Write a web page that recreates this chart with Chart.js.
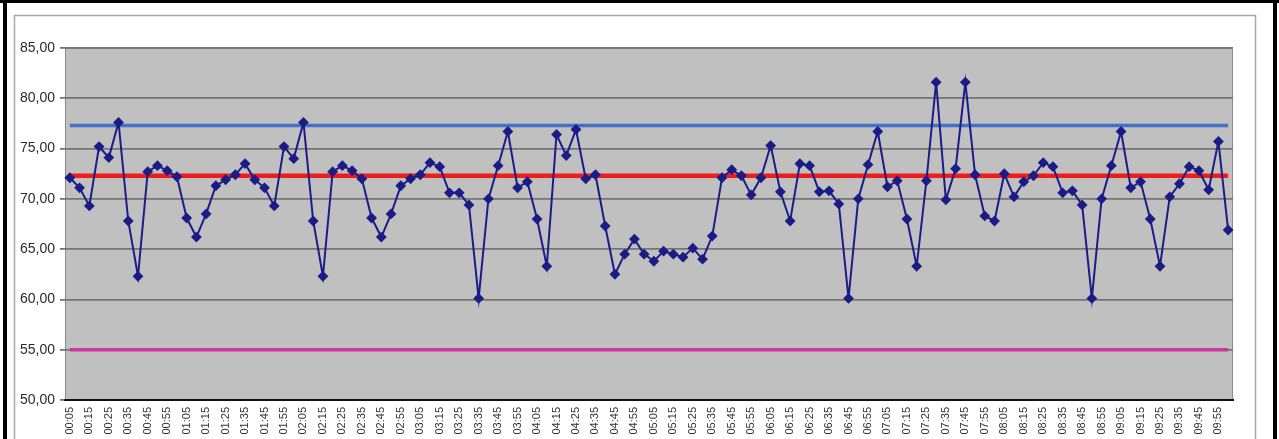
<!DOCTYPE html>
<html>
<head>
<meta charset="utf-8">
<script src="https://cdn.jsdelivr.net/npm/chart.js@4/dist/chart.umd.min.js"></script>
<style>
    html, body { margin: 0; padding: 0; background: #fff; overflow: hidden; }
    #wrap { width: 1279px; height: 439px; position: relative; }
</style>
</head>
<body>
<div id="wrap"><canvas id="myChart" width="1279" height="439"></canvas></div>
<script>
// 5-minute readings, labelled every 10 minutes on the axis
const times = [];
for (let i = 0; i < 120; i++) {
    const m = 5 + i * 5;
    times.push(String(Math.floor(m / 60)).padStart(2, '0') + ':' + String(m % 60).padStart(2, '0'));
}

const values = [
    72.1, 71.1, 69.3, 75.2, 74.1, 77.6, 67.8, 62.3, 72.7, 73.3,
    72.8, 72.2, 68.1, 66.2, 68.5, 71.3, 71.9, 72.4, 73.5, 71.9,
    71.1, 69.3, 75.2, 74.0, 77.6, 67.8, 62.3, 72.7, 73.3, 72.8,
    72.0, 68.1, 66.2, 68.5, 71.3, 72.0, 72.4, 73.6, 73.2, 70.6,
    70.6, 69.4, 60.1, 70.0, 73.3, 76.7, 71.1, 71.7, 68.0, 63.3,
    76.4, 74.3, 76.9, 72.0, 72.4, 67.3, 62.5, 64.5, 66.0, 64.5,
    63.8, 64.8, 64.5, 64.2, 65.1, 64.0, 66.3, 72.1, 72.9, 72.3,
    70.4, 72.1, 75.3, 70.7, 67.8, 73.5, 73.3, 70.7, 70.8, 69.5,
    60.1, 70.0, 73.4, 76.7, 71.2, 71.8, 68.0, 63.3, 71.8, 81.6,
    69.9, 73.0, 81.6, 72.4, 68.3, 67.8, 72.5, 70.2, 71.7, 72.3,
    73.6, 73.2, 70.6, 70.8, 69.4, 60.1, 70.0, 73.3, 76.7, 71.1,
    71.7, 68.0, 63.3, 70.2, 71.5, 73.2, 72.8, 70.9, 75.7, 66.9
];

const upperLimit = 77.3;
const average = 72.3;
const lowerLimit = 55.0;

const yTicks = [50, 55, 60, 65, 70, 75, 80, 85];

const flat = (v) => times.map(() => v);

// white sheet with black outer border and a thin grey inner frame
const frame = {
    id: 'frame',
    beforeDraw(chart) {
        const ctx = chart.ctx;
        const a = chart.chartArea;
        ctx.save();
        ctx.fillStyle = '#000';
        ctx.fillRect(0, 0, 1279, 3);
        ctx.fillRect(3, 0, 4, 439);
        ctx.fillRect(1273, 0, 4, 439);
        ctx.strokeStyle = '#a8a8a8';
        ctx.lineWidth = 1.5;
        ctx.beginPath();
        ctx.moveTo(14.5, 460);
        ctx.lineTo(14.5, 15.5);
        ctx.lineTo(1255.5, 15.5);
        ctx.lineTo(1255.5, 460);
        ctx.stroke();
        ctx.fillStyle = '#c0c0c0';
        ctx.fillRect(a.left, a.top, a.right - a.left, a.bottom - a.top);
        ctx.strokeStyle = '#8a8a8a';
        ctx.lineWidth = 1;
        ctx.strokeRect(a.left + 0.5, a.top + 0.5, a.right - a.left - 1, a.bottom - a.top);
        ctx.restore();
    }
};

const ctx = document.getElementById('myChart').getContext('2d');
new Chart(ctx, {
    type: 'line',
    data: {
        labels: times,
        datasets: [{
            data: values,
            borderColor: '#1c1c86',
            backgroundColor: '#1c1c86',
            borderWidth: 2,
            pointStyle: 'rectRot',
            pointRadius: 4,
            tension: 0
        }, {
            data: flat(upperLimit),
            borderColor: '#4570c8',
            borderWidth: 3.5,
            pointRadius: 0
        }, {
            data: flat(average),
            borderColor: '#ee1c1c',
            borderWidth: 4.5,
            pointRadius: 0
        }, {
            data: flat(lowerLimit),
            borderColor: '#c8389e',
            borderWidth: 3.5,
            pointRadius: 0
        }]
    },
    options: {
        responsive: false,
        animation: false,
        layout: { padding: { left: 0, top: 48, right: 46, bottom: 0 } },
        plugins: { legend: { display: false }, tooltip: { enabled: false } },
        scales: {
            x: {
                offset: true,
                grid: { display: false, drawTicks: false },
                border: { display: true, color: '#111', width: 2 },
                ticks: {
                    autoSkip: false,
                    minRotation: 90,
                    maxRotation: 90,
                    padding: 7,
                    color: '#333',
                    font: { family: 'Liberation Sans, Arial', size: 11 },
                    callback: (v, i) => (i % 2 === 0 ? times[i] : '')
                },
                afterFit: (scale) => { scale.height = 39; }
            },
            y: {
                min: 50,
                max: 85,
                afterBuildTicks: (scale) => { scale.ticks = yTicks.map(v => ({ value: v })); },
                grid: { color: '#757575', lineWidth: 1.8, tickLength: 5 },
                border: { display: false },
                ticks: {
                    padding: 5,
                    color: '#2a2a2a',
                    font: { family: 'Liberation Sans, Arial', size: 14 },
                    callback: (v) => v.toFixed(2).replace('.', ',')
                },
                afterFit: (scale) => { scale.width = 65; }
            }
        }
    },
    plugins: [frame]
});
</script>
</body>
</html>
